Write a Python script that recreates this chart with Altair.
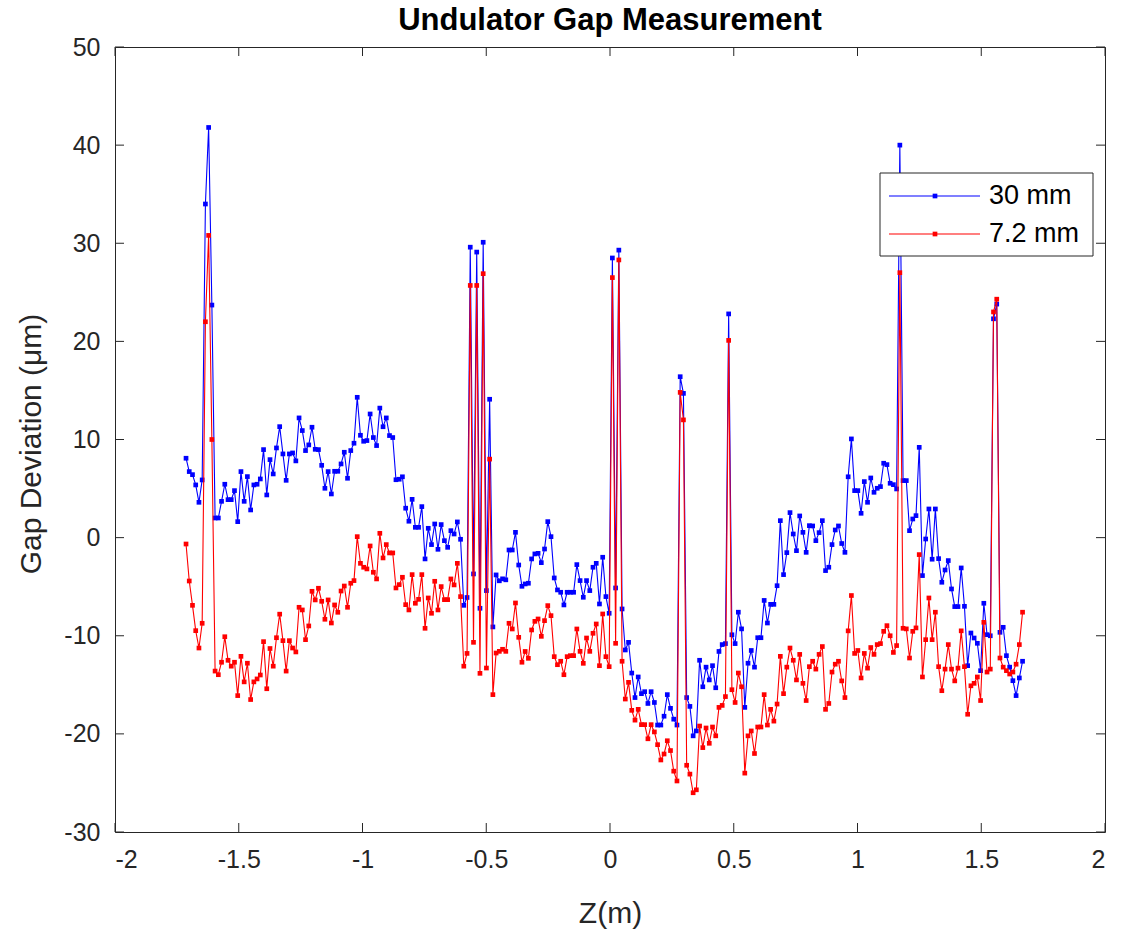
import altair as alt
import pandas as pd

# ---------------- data ----------------
SERIES = ["30 mm", "7.2 mm"]
COLORS = ["#0000FF", "#FF0000"]

# measurement grid (z in metres): first sample and sample spacing
Z_START = -1.713
Z_STEP = 0.01305

gap_30mm = [
    8.09, 6.73, 6.42, 5.37, 3.60, 5.88, 34.0, 41.8, 23.7, 2.0,
    2.0, 3.70, 5.44, 3.87, 3.87, 4.79, 1.63, 6.73, 3.70, 6.22,
    2.82, 5.37, 5.44, 5.98, 8.97, 4.35, 7.95, 6.49, 9.14, 11.31,
    8.53, 5.84, 8.53, 8.63, 7.82, 12.20, 10.91, 8.87, 9.45, 11.25,
    9.00, 8.97, 7.37, 5.03, 6.73, 4.45, 6.76, 6.76, 7.51, 8.70,
    6.05, 8.87, 9.62, 14.3, 10.43, 9.82, 9.89, 12.6, 10.2, 9.38,
    13.2, 11.3, 12.2, 10.4, 10.2, 5.9, 5.95, 6.2, 3.0, 1.67,
    3.9, 1.05, 1.05, 3.16, -2.17, 0.95, -0.71, 1.39, -1.19, 1.33,
    -0.31, -0.99, 0.71, 0.37, 1.6, -0.17, -6.9, -6.1, 29.6, -3.7,
    29.1, -7.2, 30.1, -5.4, 14.1, -9.1, -3.8, -4.4, -4.2, -4.3,
    -1.26, -1.26, 0.54, -2.79, -4.96, -4.72, -4.65, -2.17, -1.66, -1.6,
    -2.55, -1.16, 1.63, 0.1, -4.11, -5.33, -5.57, -6.86, -5.57, -5.57,
    -5.57, -2.75, -4.38, -6.08, -4.38, -5.4, -3.02, -2.62, -6.76, -2.0,
    -6.01, -7.71, 28.5, -5.13, 29.3, -7.27, -11.45, -10.67, -13.8, -16.3,
    -14.2, -15.9, -15.7, -16.9, -15.7, -16.8, -19.1, -19.1, -18.2, -16.0,
    -17.4, -18.5, -19.1, 16.4, 14.7, -16.3, -17.2, -20.2, -19.7, -12.5,
    -15.2, -13.2, -14.5, -13.05, -15.3, -11.6, -10.9, -10.8, 22.8, -9.9,
    -10.8, -7.6, -9.3, -17.3, -12.8, -11.5, -13.2, -10.2, -10.2, -6.4,
    -8.7, -6.8, -6.8, -4.9, 1.73, -3.77, -1.53, 2.55, 0.37, -1.33,
    2.21, 0.54, -1.5, 1.22, 1.19, -0.31, 0.51, 1.73, -3.36, -3.02,
    -0.71, 0.78, 1.19, -0.6, -1.5, 6.2, 10.06, 4.79, 4.79, 2.48,
    5.71, 3.6, 6.08, 4.62, 5.03, 5.2, 7.58, 7.44, 5.54, 5.4,
    4.96, 40.0, 5.81, 5.81, 0.71, 1.9, 2.24, 9.2, -3.87, -0.14,
    2.92, -2.2, 2.92, -2.14, -4.55, -3.3, -2.34, -5.23, -7.03, -7.03,
    -3.09, -7.0, -13.05, -9.72, -10.23, -10.77, -13.56, -6.69, -9.89, -10.0,
    22.3, 23.8, -9.65, -9.14, -12.03, -13.2, -14.58, -16.1, -14.3, -12.6,
]

gap_72mm = [
    -0.65, -4.42, -6.90, -9.48, -11.25, -8.73, 22.0, 30.8, 10.0, -13.6,
    -13.97, -12.7, -10.1, -12.5, -13.1, -12.7, -16.1, -12.1, -14.7, -12.8,
    -16.5, -14.7, -14.4, -14.0, -10.6, -15.4, -11.3, -13.1, -10.2, -7.8,
    -10.5, -13.6, -10.5, -11.25, -11.65, -7.1, -7.37, -10.4, -9.0, -5.47,
    -6.35, -5.16, -6.49, -8.32, -6.35, -8.7, -6.86, -7.61, -5.44, -4.93,
    -7.1, -4.65, -4.38, 0.1, -2.62, -3.02, -3.19, -0.85, -3.53, -4.21,
    0.44, -2.07, -0.71, -1.56, -1.56, -5.13, -4.79, -4.04, -6.83, -7.37,
    -3.77, -6.69, -6.29, -3.77, -9.24, -6.15, -7.71, -4.45, -7.37, -4.99,
    -6.32, -6.32, -4.21, -4.82, -2.62, -6.01, -13.1, -11.8, 25.7, -10.67,
    25.7, -13.83, 26.9, -13.29, 8.0, -16.0, -11.76, -11.59, -11.38, -11.59,
    -8.73, -9.31, -6.66, -10.16, -12.7, -11.6, -12.3, -9.41, -8.53, -8.29,
    -10.06, -8.46, -6.93, -7.95, -12.13, -12.95, -12.6, -13.97, -12.13, -12.03,
    -12.03, -9.31, -11.59, -12.81, -10.23, -11.59, -9.75, -8.8, -13.05, -7.78,
    -12.13, -13.15, 26.5, -10.77, 28.3, -12.6, -16.45, -14.75, -17.6, -18.6,
    -17.5, -19.06, -19.06, -20.5, -19.06, -19.8, -21.1, -22.66, -22.05, -20.7,
    -21.7, -23.8, -24.8, 14.8, 12.0, -23.2, -24.1, -26.0, -25.7, -19.2,
    -21.4, -19.4, -20.96, -19.3, -20.2, -17.3, -17.1, -16.2, 20.1, -15.5,
    -16.8, -13.8, -15.2, -24.0, -20.2, -19.7, -22.0, -19.3, -19.3, -16.0,
    -19.1, -17.5, -18.7, -16.96, -12.1, -15.9, -13.2, -11.25, -12.5, -14.5,
    -11.9, -14.85, -16.6, -13.15, -12.6, -13.4, -11.9, -11.1, -17.5, -16.9,
    -13.7, -12.9, -12.6, -14.6, -16.3, -9.5, -5.9, -11.8, -11.5, -14.3,
    -11.8, -13.3, -11.2, -11.9, -10.9, -10.8, -9.55, -8.97, -10.0, -11.7,
    -11.0, 27.0, -9.24, -9.3, -12.27, -9.55, -9.2, -1.73, -14.2, -10.4,
    -6.15, -10.4, -7.6, -13.15, -15.6, -13.4, -10.9, -13.4, -14.6, -13.3,
    -9.5, -13.15, -18.0, -15.1, -14.85, -14.2, -16.6, -8.63, -13.7, -13.4,
    23.0, 24.3, -12.27, -13.2, -13.56, -13.9, -13.7, -12.9, -10.9, -7.6,
]

z = [round(Z_START + i * Z_STEP, 4) for i in range(len(gap_30mm))]

x_ticks = [-2, -1.5, -1, -0.5, 0, 0.5, 1, 1.5, 2]
y_ticks = [-30, -20, -10, 0, 10, 20, 30, 40, 50]

TITLE = "Undulator Gap Measurement"
X_TITLE = "Z(m)"
Y_TITLE = "Gap Deviation (μm)"

# ---------------- layout / style ----------------
W, H = 990, 785
FONT = "Liberation Sans"
AX = "#262626"
TICK = 9
TICK_FS = 25
LABEL_FS = 30
TITLE_FS = 31
LEGEND_FS = 27
MARK_SIZE = 22

hyphen = "datum.value < 0 ? '-' + format(-datum.value, '') : format(datum.value, '')"

xs = alt.Scale(domain=[-2, 2], nice=False, zero=False)
ys = alt.Scale(domain=[-30, 50], nice=False, zero=False)

axis_style = dict(grid=False, ticks=False, domain=False,
                  labelFont=FONT, labelFontSize=TICK_FS, labelColor=AX,
                  titleFont=FONT, titleFontSize=LABEL_FS, titleColor=AX,
                  titleFontWeight="normal")

x_axis = alt.Axis(values=x_ticks, labelExpr=hyphen, labelPadding=15,
                  titleBaseline="middle", titleY=81, **axis_style)
y_axis = alt.Axis(values=y_ticks, labelExpr=hyphen, labelPadding=15,
                  titleBaseline="middle", titleX=-84, titleY=H / 2 + 4,
                  titleAngle=270, titleAlign="center", **axis_style)

X = lambda: alt.X("z:Q", scale=xs, axis=x_axis, title=X_TITLE)
Y = lambda: alt.Y("gap:Q", scale=ys, axis=y_axis, title=Y_TITLE)

layers = []
for vals, name, color in [(gap_30mm, SERIES[0], COLORS[0]), (gap_72mm, SERIES[1], COLORS[1])]:
    d = pd.DataFrame({"z": z, "gap": vals, "series": name})
    base = alt.Chart(d).encode(x=X(), y=Y())
    layers.append(base.mark_line(color=color, strokeWidth=1.1))
    layers.append(base.mark_point(shape="square", filled=True, size=MARK_SIZE,
                                  color=color, opacity=1))

# inward tick marks on all four sides (MATLAB box style)
xt = pd.DataFrame({"z": x_ticks})
yt = pd.DataFrame({"gap": y_ticks})
tick_rule = dict(color=AX, strokeWidth=1)
layers.append(alt.Chart(xt).mark_rule(**tick_rule).encode(x=X(), y=alt.value(H - TICK), y2=alt.value(H)))
layers.append(alt.Chart(xt).mark_rule(**tick_rule).encode(x=X(), y=alt.value(0), y2=alt.value(TICK)))
layers.append(alt.Chart(yt).mark_rule(**tick_rule).encode(y=Y(), x=alt.value(0), x2=alt.value(TICK)))
layers.append(alt.Chart(yt).mark_rule(**tick_rule).encode(y=Y(), x=alt.value(W - TICK), x2=alt.value(W)))

# legend box (drawn on top, like MATLAB)
LX0, LX1, LY0, LY1 = 765, 978, 126, 209
ROW_Y = [149, 187]
one = pd.DataFrame({"k": [0]})
layers.append(alt.Chart(one).mark_rect(fill="white", stroke=AX, strokeWidth=1).encode(
    x=alt.value(LX0), x2=alt.value(LX1), y=alt.value(LY0), y2=alt.value(LY1)))
for name, color, ry in zip(SERIES, COLORS, ROW_Y):
    ld = pd.DataFrame({"series": [name]})
    layers.append(alt.Chart(ld).mark_rule(color=color, strokeWidth=1.1).encode(
        x=alt.value(774), x2=alt.value(865), y=alt.value(ry)))
    layers.append(alt.Chart(ld).mark_point(shape="square", filled=True, size=MARK_SIZE,
                                           color=color, opacity=1).encode(
        x=alt.value(820), y=alt.value(ry)))
    layers.append(alt.Chart(ld).mark_text(align="left", baseline="middle", fontSize=LEGEND_FS,
                                          font=FONT, color="#000000").encode(
        x=alt.value(874), y=alt.value(ry), text="series:N"))

# chart title, centred over the axes box
title_df = pd.DataFrame({"t": [TITLE]})
layers.append(alt.Chart(title_df).mark_text(align="center", baseline="middle",
                                            fontSize=TITLE_FS, fontWeight="bold",
                                            font=FONT, color="#000000").encode(
    x=alt.value(W / 2), y=alt.value(-26), text="t:N"))

chart = alt.layer(*layers).properties(
    width=W, height=H,
    background="white",
    autosize=alt.AutoSizeParams(type="none"),
    padding={"left": 115, "top": 47, "right": 22, "bottom": 102},
).configure_view(
    stroke=AX, strokeWidth=1
)

chart.save("out.html", embed_options={"renderer": "svg", "actions": False})
